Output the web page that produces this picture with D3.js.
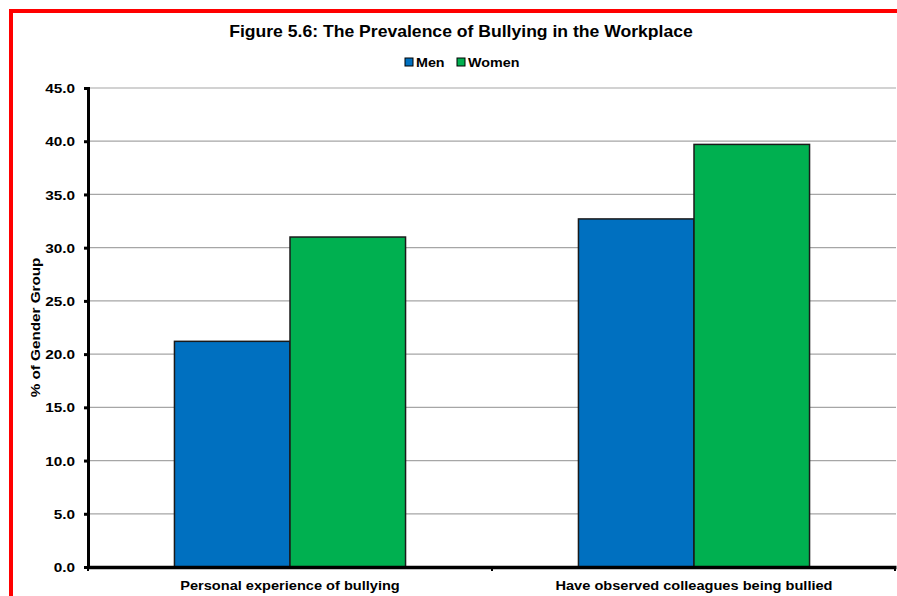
<!DOCTYPE html>
<html><head><meta charset="utf-8">
<script src="https://cdn.jsdelivr.net/npm/d3@7"></script>
<style>
html,body{margin:0;padding:0;background:#fff;}
svg{display:block;font-family:"Liberation Sans",Arial,sans-serif;}
</style></head>
<body>
<script>
const categories = ["Personal experience of bullying", "Have observed colleagues being bullied"];
const seriesNames = ["Men", "Women"];
const menValues = [21.2, 32.7];
const womenValues = [31.0, 39.7];
const yTicks = [0, 5, 10, 15, 20, 25, 30, 35, 40, 45];
const colors = ["#0070C0", "#00B050"];

const W = 897, H = 596;
const margin = {left: 88, right: 1, top: 88, bottom: 29};
const svg = d3.select("body").append("svg").attr("width", W).attr("height", H);

// red frame
svg.append("rect").attr("x", 11).attr("y", 11).attr("width", 1000).attr("height", 700)
  .attr("fill", "none").attr("stroke", "#FF0000").attr("stroke-width", 4);

const x0 = d3.scaleBand().domain(categories).range([margin.left, W - margin.right]).paddingInner(0).paddingOuter(0);
const bandPad = 0.214;
const x1 = d3.scaleBand().domain(seriesNames)
  .range([x0.bandwidth() * bandPad, x0.bandwidth() * (1 - bandPad)]);
const y = d3.scaleLinear().domain([0, 45]).range([H - margin.bottom, margin.top]);

// gridlines
svg.append("g").selectAll("line").data(yTicks.filter(d => d > 0)).join("line")
  .attr("x1", margin.left).attr("x2", W - margin.right)
  .attr("y1", d => y(d)).attr("y2", d => y(d))
  .attr("stroke", "#A6A6A6").attr("stroke-width", 1.2);

// bars
const data = categories.map((c, i) => ({cat: c, vals: [menValues[i], womenValues[i]]}));
const groups = svg.append("g").selectAll("g").data(data).join("g")
  .attr("transform", d => `translate(${x0(d.cat)},0)`);
groups.selectAll("rect").data(d => d.vals.map((v, j) => ({s: seriesNames[j], v, j}))).join("rect")
  .attr("x", d => x1(d.s)).attr("width", x1.bandwidth())
  .attr("y", d => y(d.v)).attr("height", d => y(0) - y(d.v))
  .attr("fill", d => colors[d.j]).attr("stroke", "#1a1a1a").attr("stroke-width", 1.5);

// y axis
const yAxis = svg.append("g").attr("transform", `translate(${margin.left},0)`)
  .call(d3.axisLeft(y).tickValues(yTicks).tickFormat(d3.format(".1f")).tickSize(4).tickPadding(0));
yAxis.select(".domain").attr("stroke", "#000").attr("stroke-width", 3);
yAxis.selectAll(".tick line").attr("stroke", "#000").attr("stroke-width", 3);
yAxis.selectAll(".tick text")
  .attr("x", 0).attr("dy", null).attr("y", 0)
  .attr("transform", "translate(-13,4.6) scale(1.18,1)")
  .attr("font-size", 13).attr("font-weight", "bold").attr("fill", "#000")
  .attr("font-family", "Liberation Sans, Arial, sans-serif");

// x axis
const xAxis = svg.append("g").attr("transform", `translate(0,${y(0)})`)
  .call(d3.axisBottom(x0).tickSize(0).tickPadding(0));
xAxis.select(".domain").attr("stroke", "#000").attr("stroke-width", 3.5);
xAxis.selectAll(".tick text")
  .attr("y", 0).attr("dy", null)
  .attr("transform", "translate(0,23) scale(1.08,1)")
  .attr("font-size", 13.5).attr("font-weight", "bold").attr("fill", "#000")
  .attr("font-family", "Liberation Sans, Arial, sans-serif");
// category boundary tick marks
const bounds = [margin.left, x0(categories[1]), W - margin.right - 1];
svg.append("g").selectAll("line").data(bounds).join("line")
  .attr("x1", d => d).attr("x2", d => d).attr("y1", y(0)).attr("y2", y(0) + 4)
  .attr("stroke", "#000").attr("stroke-width", 2);

// title
svg.append("text").attr("transform", "translate(461,37) scale(1.10,1)").attr("text-anchor", "middle")
  .attr("font-size", 16).attr("font-weight", "bold").attr("fill", "#000")
  .text("Figure 5.6: The Prevalence of Bullying in the Workplace");

// legend
const legendItems = [{name: seriesNames[0], x: 405}, {name: seriesNames[1], x: 457}];
const lg = svg.append("g").selectAll("g").data(legendItems).join("g")
  .attr("transform", d => `translate(${d.x},58)`);
lg.append("rect").attr("width", 8).attr("height", 8)
  .attr("fill", (d, i) => colors[i]).attr("stroke", "#000").attr("stroke-width", 1);
lg.append("text").attr("transform", "translate(11,9) scale(1.06,1)").attr("font-size", 13.5).attr("font-weight", "bold")
  .attr("fill", "#000").text(d => d.name);

// y label
svg.append("text").attr("transform", `translate(40,${(y(0) + y(45)) / 2}) rotate(-90) scale(1.13,1)`)
  .attr("text-anchor", "middle").attr("font-size", 13.5).attr("font-weight", "bold").attr("fill", "#000")
  .text("% of Gender Group");
</script>
</body></html>
